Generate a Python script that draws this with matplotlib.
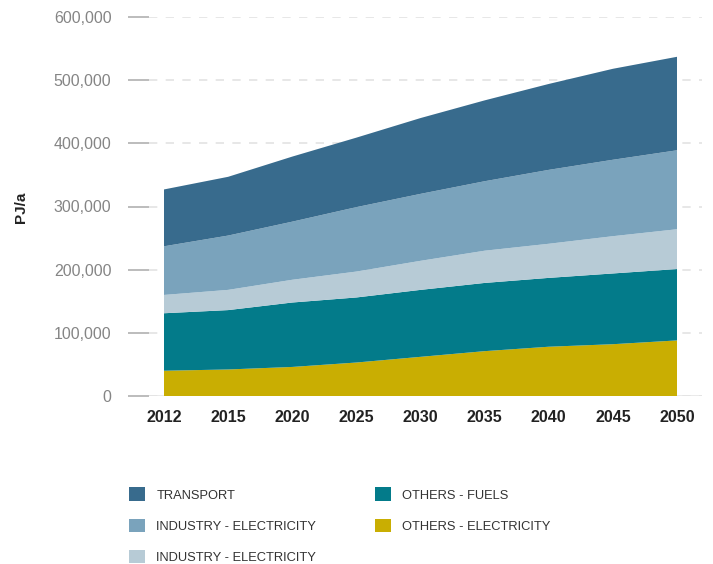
import matplotlib
matplotlib.use("Agg")
import matplotlib.pyplot as plt
from matplotlib.patches import Patch
from matplotlib.ticker import FuncFormatter
import numpy as np

plt.rcParams['font.family'] = ['Liberation Sans', 'DejaVu Sans']

years = ["2012", "2015", "2020", "2025", "2030", "2035", "2040", "2045", "2050"]
others_electricity = [40000, 42000, 46000, 53000, 62000, 71000, 78000, 82000, 88000]
others_fuels = [91000, 94000, 102000, 103000, 106000, 108000, 109000, 112000, 113000]
industry_electricity_light = [29000, 32000, 36000, 41000, 46000, 51000, 54000, 59000, 63000]
industry_electricity = [77000, 86000, 92000, 102000, 106000, 110000, 117000, 121000, 125000]
transport = [90000, 93000, 103000, 110000, 120000, 128000, 136000, 144000, 148000]

series = [others_electricity, others_fuels, industry_electricity_light,
          industry_electricity, transport]
colors = ["#c9ae02", "#037b8a", "#b7cbd6", "#7aa3bc", "#386b8d"]
legend_labels = ["TRANSPORT", "INDUSTRY - ELECTRICITY", "INDUSTRY - ELECTRICITY",
                 "OTHERS - FUELS", "OTHERS - ELECTRICITY"]
legend_colors = ["#386b8d", "#7aa3bc", "#b7cbd6", "#037b8a", "#c9ae02"]

W, H = 713, 564
fig = plt.figure(figsize=(W / 100, H / 100), dpi=100)
ax_l, ax_r, ax_t, ax_b = 149, 702, 17, 396
ax = fig.add_axes([ax_l / W, 1 - ax_b / H, (ax_r - ax_l) / W, (ax_b - ax_t) / H])

x = np.arange(len(years))
ax.stackplot(x, *series, colors=colors, linewidth=0, zorder=2)

px_per_unit = (677 - 164) / 8
ax.set_xlim(-(164 - ax_l) / px_per_unit, 8 + (ax_r - 677) / px_per_unit)
ax.set_ylim(0, 600000)
ax.set_yticks(np.arange(0, 600001, 100000))
ax.yaxis.set_major_formatter(FuncFormatter(lambda v, p: f"{int(v):,}"))
ax.set_xticks(x)
ax.set_xticklabels(years, fontsize=11.5, fontweight='bold', color='#222222')

for s in ax.spines.values():
    s.set_visible(False)
ax.grid(axis='y', color='#e3e3e3', linestyle=(0, (5, 5)), linewidth=1.2, zorder=0)
ax.axhline(0, color='#e8e8e8', linewidth=2, zorder=1)
ax.tick_params(axis='y', length=15, width=1.2, color='#b0b0b0', pad=12,
               labelsize=11.5, labelcolor='#858585')
ax.tick_params(axis='x', length=0, pad=10)

fig.text(21 / W, 1 - 207 / H, "PJ/a", rotation=90, fontsize=11, fontweight='bold',
         color='#222222', ha='center', va='center')

handles = [Patch(facecolor=c, edgecolor='none') for c in legend_colors]
fig.legend(handles, legend_labels, loc='upper left',
           bbox_to_anchor=(119 / W, 1 - 477 / H), ncol=2, frameon=False,
           fontsize=9.3, labelcolor='#333333', handlelength=1.25, handleheight=1.25,
           handletextpad=0.85, labelspacing=1.32, columnspacing=4.55, borderpad=0.3)

fig.savefig("out.png", dpi=100)
